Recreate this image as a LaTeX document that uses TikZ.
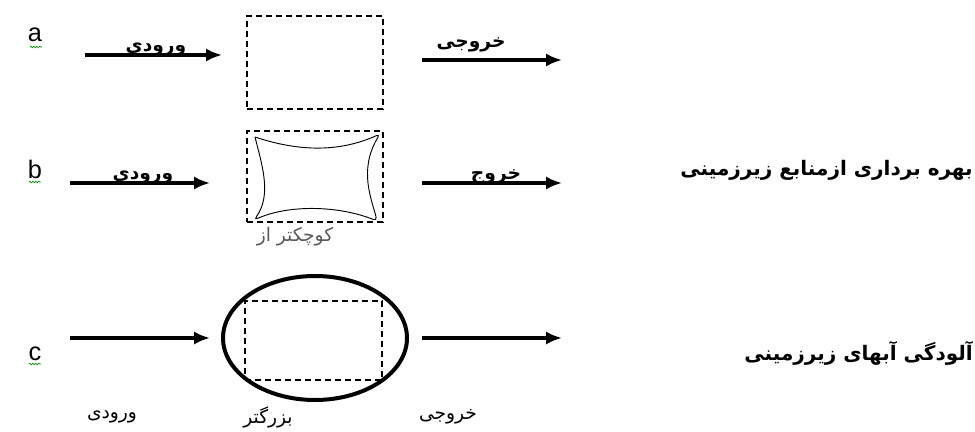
\documentclass[tikz,border=0pt]{standalone}
\usepackage{fontspec}
\setmainfont{Liberation Sans}
\newfontfamily\farsi[Script=Arabic]{DejaVu Sans}
\TeXXeTstate=1
\usetikzlibrary{positioning}
\usetikzlibrary{arrows.meta}
\usetikzlibrary{shapes.geometric}
\usetikzlibrary{decorations.pathmorphing}
\newcommand{\fa}[1]{{\farsi\beginR #1\endR}}
\tikzset{
	flow/.style={
		line width=2.4pt,
		-{Latex[length=12pt,width=10pt]}
	},
	dashbox/.style={
		rectangle,
		draw,
		dash pattern=on 4.5pt off 3pt,
		line width=1pt,
		inner sep=0pt
	},
	arrowtext/.style={
		font=\farsi\bfseries\fontsize{14}{16}\selectfont,
		inner sep=0pt,
		anchor=base
	},
	sidetext/.style={
		font=\farsi\bfseries\fontsize{15}{17}\selectfont,
		inner sep=0pt,
		anchor=east
	},
	foottext/.style={
		font=\farsi\fontsize{14}{16}\selectfont,
		inner sep=0pt
	},
	rowletter/.style={
		font=\fontsize{19}{21}\selectfont,
		inner sep=0pt
	},
	squiggle/.style={
		draw=green!55!black,
		line width=0.5pt,
		decorate,
		decoration={snake,segment length=2.2pt,amplitude=0.6pt}
	}
}

\begin{document}
\begin{tikzpicture}[x=0.75pt,y=-0.75pt]
	\useasboundingbox (0,0) rectangle (975,432);

	\draw node[rowletter] (LetterA) at (35,35) {a};
	\draw node[rowletter] (LetterB) at (35,169) {b};
	\draw node[rowletter] (LetterC) at (35,354) {c};
	\draw [squiggle] (30,47) -- (42,47);
	\draw [squiggle] (29,182) -- (41,182);
	\draw [squiggle] (29,364) -- (41,364);

	\draw node[dashbox, minimum width=102pt, minimum height=69.75pt] (SystemA) at (315,62.5) {};
	\draw node[dashbox, minimum width=102pt, minimum height=68.25pt] (SystemB) at (315,176.5) {};
	\draw node[ellipse, draw, line width=3pt, minimum width=138pt, minimum height=93pt] (Aquifer) at (315,338) {};
	\draw node[dashbox, minimum width=102.75pt, minimum height=59.25pt] (SystemC) at (313.5,340.5) {};

	\draw [line width=0.7pt, rounded corners=3pt] (255,137) .. controls (300,152) and (340,152) .. (380,134)
		.. controls (358,170) and (372,200) .. (377,221)
		.. controls (340,206) and (290,204) .. (254,220)
		.. controls (272,195) and (262,165) .. (255,137);

	\coordinate (InA) at (85,55);
	\coordinate (InAEnd) at (222,55);
	\coordinate (OutA) at (422,60);
	\coordinate (OutAEnd) at (562,60);
	\coordinate (InB) at (70,183);
	\coordinate (InBEnd) at (210,183);
	\coordinate (OutB) at (422,183);
	\coordinate (OutBEnd) at (562,183);
	\coordinate (InC) at (70,338);
	\coordinate (InCEnd) at (210,338);
	\coordinate (OutC) at (422,338);
	\coordinate (OutCEnd) at (562,338);

	\draw [flow] (InA) -- (InAEnd);
	\draw [flow] (OutA) -- (OutAEnd);
	\draw [flow] (InB) -- (InBEnd);
	\draw [flow] (OutB) -- (OutBEnd);
	\draw [flow] (InC) -- (InCEnd);
	\draw [flow] (OutC) -- (OutCEnd);

	\draw node[arrowtext] (InTextA) at (156,51) {\fa{ورودی}};
	\draw node[arrowtext] (OutTextA) at (471,47) {\fa{خروجی}};
	\draw node[arrowtext] (InTextB) at (143,179) {\fa{ورودی}};
	\draw node[arrowtext] (OutTextB) at (496,179) {\fa{خروج}};
	\draw node[foottext, text=black!65] (Smaller) at (295,237) {\fa{از} \fa{کوچکتر}};

	\draw node[sidetext] (Extraction) at (973,170) {\fa{زیرزمینی} \fa{ازمنابع} \fa{برداری} \fa{بهره}};
	\draw node[sidetext] (Pollution) at (973,353) {\fa{زیرزمینی} \fa{آبهای} \fa{آلودگی}};

	\draw node[foottext] (InTextC) at (112,417) {\fa{ورودی}};
	\draw node[foottext] (Larger) at (268,417) {\fa{بزرگتر}};
	\draw node[foottext] (OutTextC) at (448,417) {\fa{خروجی}};
\end{tikzpicture}
\end{document}
